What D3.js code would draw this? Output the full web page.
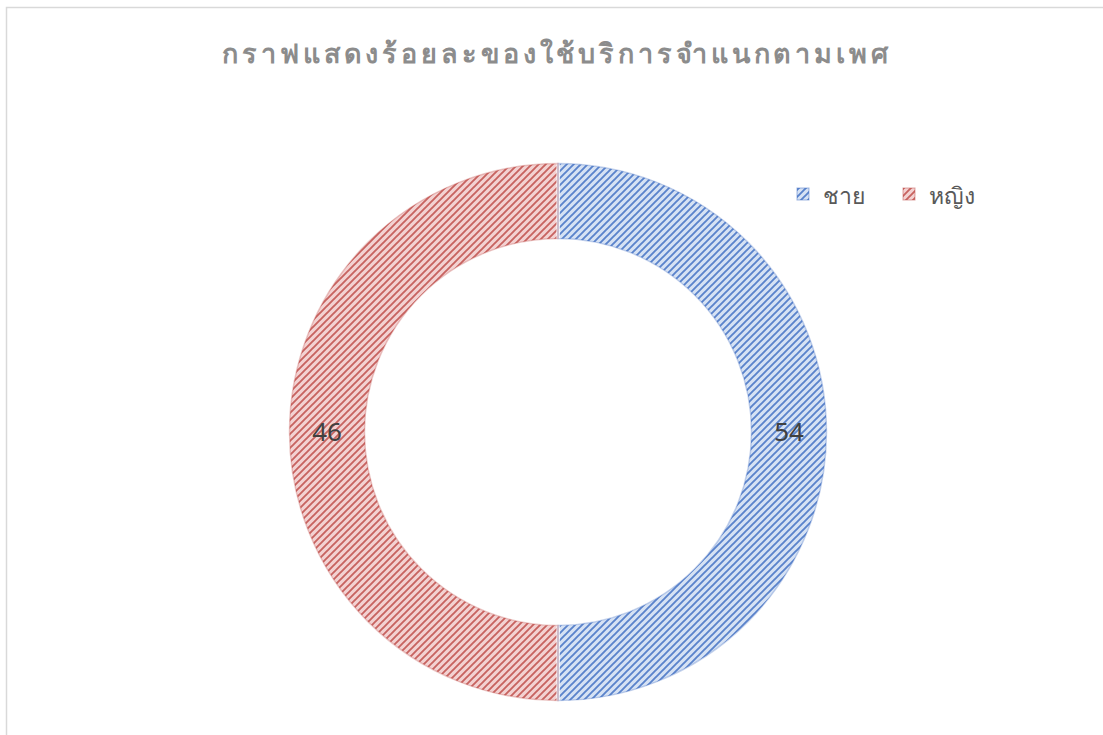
<!DOCTYPE html>
<html><head><meta charset="utf-8">
<script src="https://cdn.jsdelivr.net/npm/d3@7"></script>
<style>html,body{margin:0;padding:0;background:#fff;}svg{display:block;}</style>
</head><body>
<svg id="c" width="1103" height="735"></svg>
<script>
const title = "กราฟแสดงร้อยละของใช้บริการจำแนกตามเพศ";
const categories = ["ชาย", "หญิง"];
const labelValues = [54, 46];      // data labels as printed
const arcShares = [50, 50];        // arc sizes as drawn in the picture
const fgColors = ["#4472c4", "#c0504d"];
const bgColors = ["#d6e2f4", "#f3d2d2"];

const svg = d3.select("#c");
const W = 1103, H = 735;
svg.append("rect").attr("x", 6.5).attr("y", 7.5).attr("width", W).attr("height", H)
  .attr("fill", "#fff").attr("stroke", "#d9d9d9").attr("stroke-width", 1.5);

const defs = svg.append("defs");
categories.forEach((c, i) => {
  const p = defs.append("pattern").attr("id", "pat" + i).attr("patternUnits", "userSpaceOnUse")
    .attr("width", 7).attr("height", 7);
  p.append("rect").attr("width", 7).attr("height", 7).attr("fill", bgColors[i]);
  p.append("path").attr("d", "M-1,8 L8,-1 M-4.5,4.5 L4.5,-4.5 M2.5,11.5 L11.5,2.5")
    .attr("stroke", fgColors[i]).attr("stroke-width", 1.9).attr("stroke-opacity", 0.85);
});

svg.append("text").attr("x", 557).attr("y", 63).attr("text-anchor", "middle")
  .attr("font-family", "Noto Sans, DejaVu Sans, sans-serif").attr("font-size", 27)
  .attr("font-weight", "bold").attr("letter-spacing", 3.9).attr("fill", "#8c8c8c").text(title);

const cx = 558, cy = 432, R = 270, r = 192;
const g = svg.append("g").attr("transform", `translate(${cx},${cy})`);
const pie = d3.pie().sort(null).value(d => d.share);
const data = categories.map((c, i) => ({ c, i, share: arcShares[i], label: labelValues[i] }));
const arc = d3.arc().innerRadius(r).outerRadius(R);
const arcs = pie(data);
g.selectAll("path.s").data(arcs).join("path").attr("class", "s")
  .attr("d", arc).attr("fill", d => `url(#pat${d.data.i})`)
  .attr("stroke", "#fff").attr("stroke-width", 3);
const edge = d3.arc().innerRadius(r + 1.5).outerRadius(R - 1.5);
g.selectAll("path.e").data(arcs).join("path").attr("class", "e")
  .attr("d", edge).attr("fill", "none")
  .attr("stroke", d => fgColors[d.data.i]).attr("stroke-opacity", 0.3).attr("stroke-width", 1.5);

const lab = d3.arc().innerRadius((r + R) / 2).outerRadius((r + R) / 2);
g.selectAll("text.l").data(arcs).join("text").attr("class", "l")
  .attr("transform", d => { const [x, y] = lab.centroid(d); return `translate(${x},${y})`; })
  .attr("text-anchor", "middle").attr("dy", "0.36em")
  .attr("font-family", "Noto Sans, DejaVu Sans, sans-serif").attr("font-size", 26)
  .attr("fill", "#404040").text(d => d.data.label);

const legX = [797, 903];
const lg = svg.append("g");
categories.forEach((c, i) => {
  lg.append("rect").attr("x", legX[i]).attr("y", 188).attr("width", 12).attr("height", 12)
    .attr("fill", `url(#pat${i})`).attr("stroke", fgColors[i]).attr("stroke-opacity", 0.5);
  lg.append("text").attr("x", legX[i] + 26).attr("y", 204)
    .attr("font-family", "Noto Sans, DejaVu Sans, sans-serif").attr("font-size", 23)
    .attr("fill", "#595959").text(c);
});
</script>
</body></html>
